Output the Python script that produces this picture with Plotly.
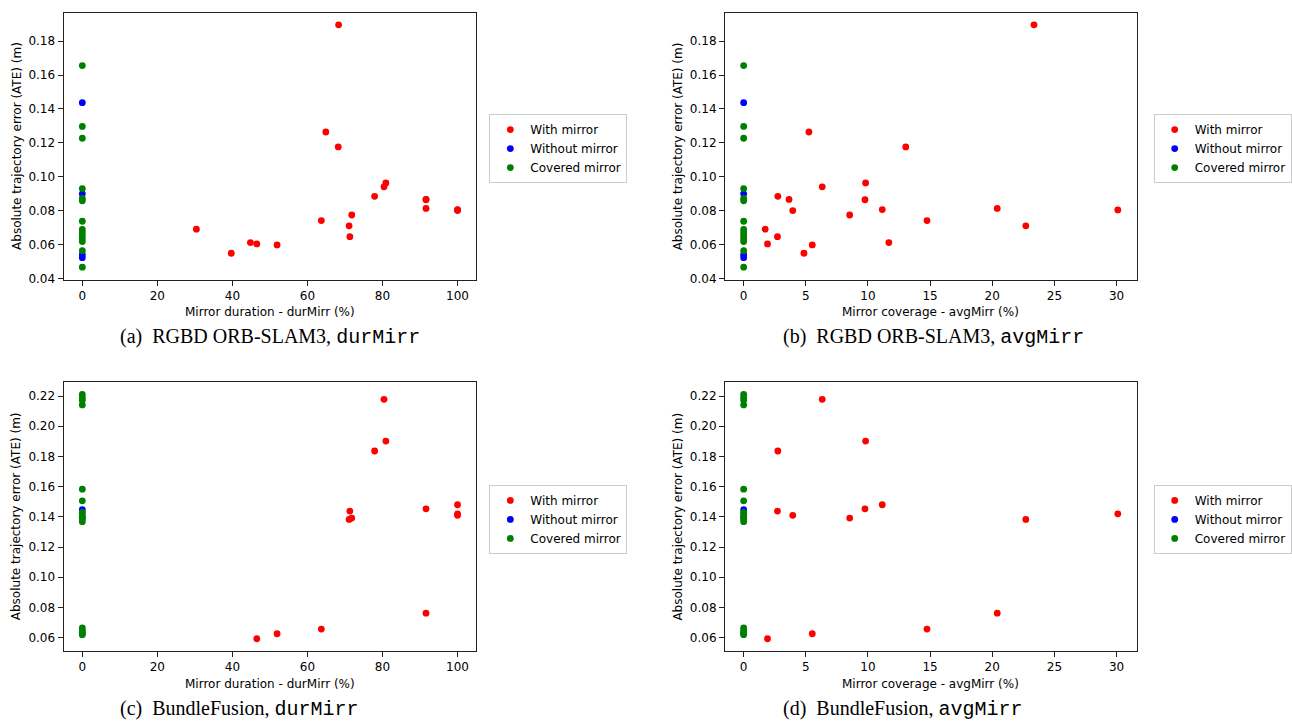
import plotly.graph_objects as go

# ---------------- data ----------------
# RGBD ORB-SLAM3 - sequences with mirror
orb_with_dur = [68.3, 64.9, 68.2, 80.9, 80.4, 77.9, 91.6, 91.6, 91.6, 100, 100, 100,
                71.8, 63.7, 71.1, 71.3, 30.4, 46.5, 51.9, 44.8, 39.7]
orb_with_avg = [23.36, 5.25, 13.04, 9.81, 6.32, 2.75, 3.65, 9.76, 20.4, 30.1, 3.95, 11.15,
                8.53, 14.75, 22.7, 2.72, 1.73, 1.92, 5.52, 11.68, 4.85]
orb_with_ate = [0.1897, 0.1264, 0.1176, 0.0963, 0.0940, 0.0884, 0.0866, 0.0864, 0.0813, 0.0804, 0.0800, 0.0806,
                0.0774, 0.0741, 0.0710, 0.0646, 0.0690, 0.0603, 0.0597, 0.0611, 0.0548]
orb_without_ate = [0.1437, 0.0899, 0.0540, 0.0522]
orb_covered_ate = [0.1656, 0.1297, 0.1227, 0.0930, 0.0872, 0.0858, 0.0737, 0.0689,
                   0.0671, 0.0653, 0.0634, 0.0617, 0.0563, 0.0466]

# BundleFusion - sequences with mirror
bf_with_dur = [80.4, 80.9, 77.9, 71.3, 71.8, 71.1, 91.6, 100, 100, 100, 91.6, 63.7, 51.9, 46.5]
bf_with_avg = [6.32, 9.81, 2.75, 2.72, 8.53, 22.7, 9.76, 11.15, 3.95, 30.1, 20.4, 14.75, 5.52, 1.92]
bf_with_ate = [0.2178, 0.1902, 0.1836, 0.1438, 0.1392, 0.1383, 0.1453, 0.1480, 0.1410, 0.1420,
               0.0762, 0.0657, 0.0626, 0.0593]
bf_without_ate = [0.1447, 0.1395, 0.0628]
bf_covered_ate = [0.2210, 0.2190, 0.2172, 0.2141, 0.1583, 0.1506, 0.1430, 0.1415, 0.1400,
                  0.1385, 0.1368, 0.0665, 0.0650, 0.0635, 0.0620]

series_names = ["With mirror", "Without mirror", "Covered mirror"]
series_colors = ["red", "blue", "green"]

x_titles = ["Mirror duration - durMirr (%)", "Mirror coverage - avgMirr (%)"]
y_title = "Absolute trajectory error (ATE) (m)"
captions = ["(a)  RGBD ORB-SLAM3, ", "(b)  RGBD ORB-SLAM3, ",
            "(c)  BundleFusion, ", "(d)  BundleFusion, "]
caption_code = ["durMirr", "avgMirr", "durMirr", "avgMirr"]

dur_ticks = [0, 20, 40, 60, 80, 100]
avg_ticks = [0, 5, 10, 15, 20, 25, 30]
orb_yticks = [0.04, 0.06, 0.08, 0.10, 0.12, 0.14, 0.16, 0.18]
bf_yticks = [0.06, 0.08, 0.10, 0.12, 0.14, 0.16, 0.18, 0.20, 0.22]

W, H = 1292, 727

panels = [
    dict(wx=orb_with_dur, wy=orb_with_ate, woy=orb_without_ate, cy=orb_covered_ate,
         xt=dur_ticks, yt=orb_yticks, xr=[-5, 105], yr=[0.0392, 0.1969]),
    dict(wx=orb_with_avg, wy=orb_with_ate, woy=orb_without_ate, cy=orb_covered_ate,
         xt=avg_ticks, yt=orb_yticks, xr=[-1.505, 31.605], yr=[0.0392, 0.1969]),
    dict(wx=bf_with_dur, wy=bf_with_ate, woy=bf_without_ate, cy=bf_covered_ate,
         xt=dur_ticks, yt=bf_yticks, xr=[-5, 105], yr=[0.0512, 0.2294]),
    dict(wx=bf_with_avg, wy=bf_with_ate, woy=bf_without_ate, cy=bf_covered_ate,
         xt=avg_ticks, yt=bf_yticks, xr=[-1.505, 31.605], yr=[0.0512, 0.2294]),
]

# pixel layout
x_dom_px = [(63.9, 478.9), (728.9, 1142.7)]
y_dom_px = [(12.7, 282.0), (385.0, 656.4)]
legend_px = [(492, 115), (1160, 115), (492, 489), (1160, 489)]

fig = go.Figure()
layout = dict(
    width=W, height=H,
    margin=dict(l=0, r=0, t=0, b=0),
    paper_bgcolor="white", plot_bgcolor="white",
    font=dict(family="DejaVu Sans", size=12, color="black"),
    annotations=[],
)

for i, p in enumerate(panels):
    col, row = i % 2, i // 2
    ax = "" if i == 0 else str(i + 1)
    leg = "legend" if i == 0 else "legend%d" % (i + 1)
    xs = [p["wx"], [0] * len(p["woy"]), [0] * len(p["cy"])]
    ys = [p["wy"], p["woy"], p["cy"]]
    for name, color, xv, yv in zip(series_names, series_colors, xs, ys):
        fig.add_trace(go.Scatter(
            x=xv, y=yv, mode="markers", name=name,
            marker=dict(color=color, size=6.8, line=dict(width=0)),
            xaxis="x" + ax, yaxis="y" + ax, legend=leg,
        ))
    x0, x1 = x_dom_px[col]
    y0, y1 = y_dom_px[row]
    common = dict(showline=True, linecolor="#222", linewidth=1, mirror=True,
                  ticks="outside", ticklen=5, tickcolor="#222", showgrid=False,
                  zeroline=False, tickfont=dict(size=12, family="DejaVu Sans", color="black"))
    layout["xaxis" + ax] = dict(domain=[x0 / W, x1 / W], anchor="y" + ax, range=p["xr"],
                                tickvals=p["xt"], ticktext=[str(v) for v in p["xt"]], **common)
    layout["yaxis" + ax] = dict(domain=[1 - y1 / H, 1 - y0 / H], anchor="x" + ax, range=p["yr"],
                                tickvals=p["yt"], ticktext=["%.2f" % v for v in p["yt"]], **common)
    lx, ly = legend_px[i]
    layout[leg] = dict(x=lx / W, y=1 - ly / H, xanchor="left", yanchor="top",
                       xref="paper", yref="paper",
                       bgcolor="white", bordercolor="#cccccc", borderwidth=1,
                       font=dict(size=12, family="DejaVu Sans", color="black"),
                       itemwidth=30, tracegroupgap=0)
    # axis titles
    layout["annotations"].append(dict(
        text=x_titles[col], x=(x0 + x1) / 2 / W, y=1 - (y1 + 33) / H,
        xref="paper", yref="paper", xanchor="center", yanchor="middle",
        showarrow=False, font=dict(size=12, family="DejaVu Sans")))
    layout["annotations"].append(dict(
        text=y_title, x=(x0 - 47) / W, y=1 - (y0 + y1) / 2 / H,
        xref="paper", yref="paper", xanchor="center", yanchor="middle", textangle=-90,
        showarrow=False, font=dict(size=12, family="DejaVu Sans")))
    # caption
    cap_x = [119, 785][col]
    cap_y = [340, 715][row]
    layout["annotations"].append(dict(
        text=captions[i] + "<span style='font-family:Liberation Mono'>" + caption_code[i] + "</span>",
        x=cap_x / W, y=1 - cap_y / H, xref="paper", yref="paper",
        xanchor="left", yanchor="middle", showarrow=False,
        font=dict(size=20, family="Liberation Serif", color="black")))

fig.update_layout(**layout)
fig.write_html("out.html")
